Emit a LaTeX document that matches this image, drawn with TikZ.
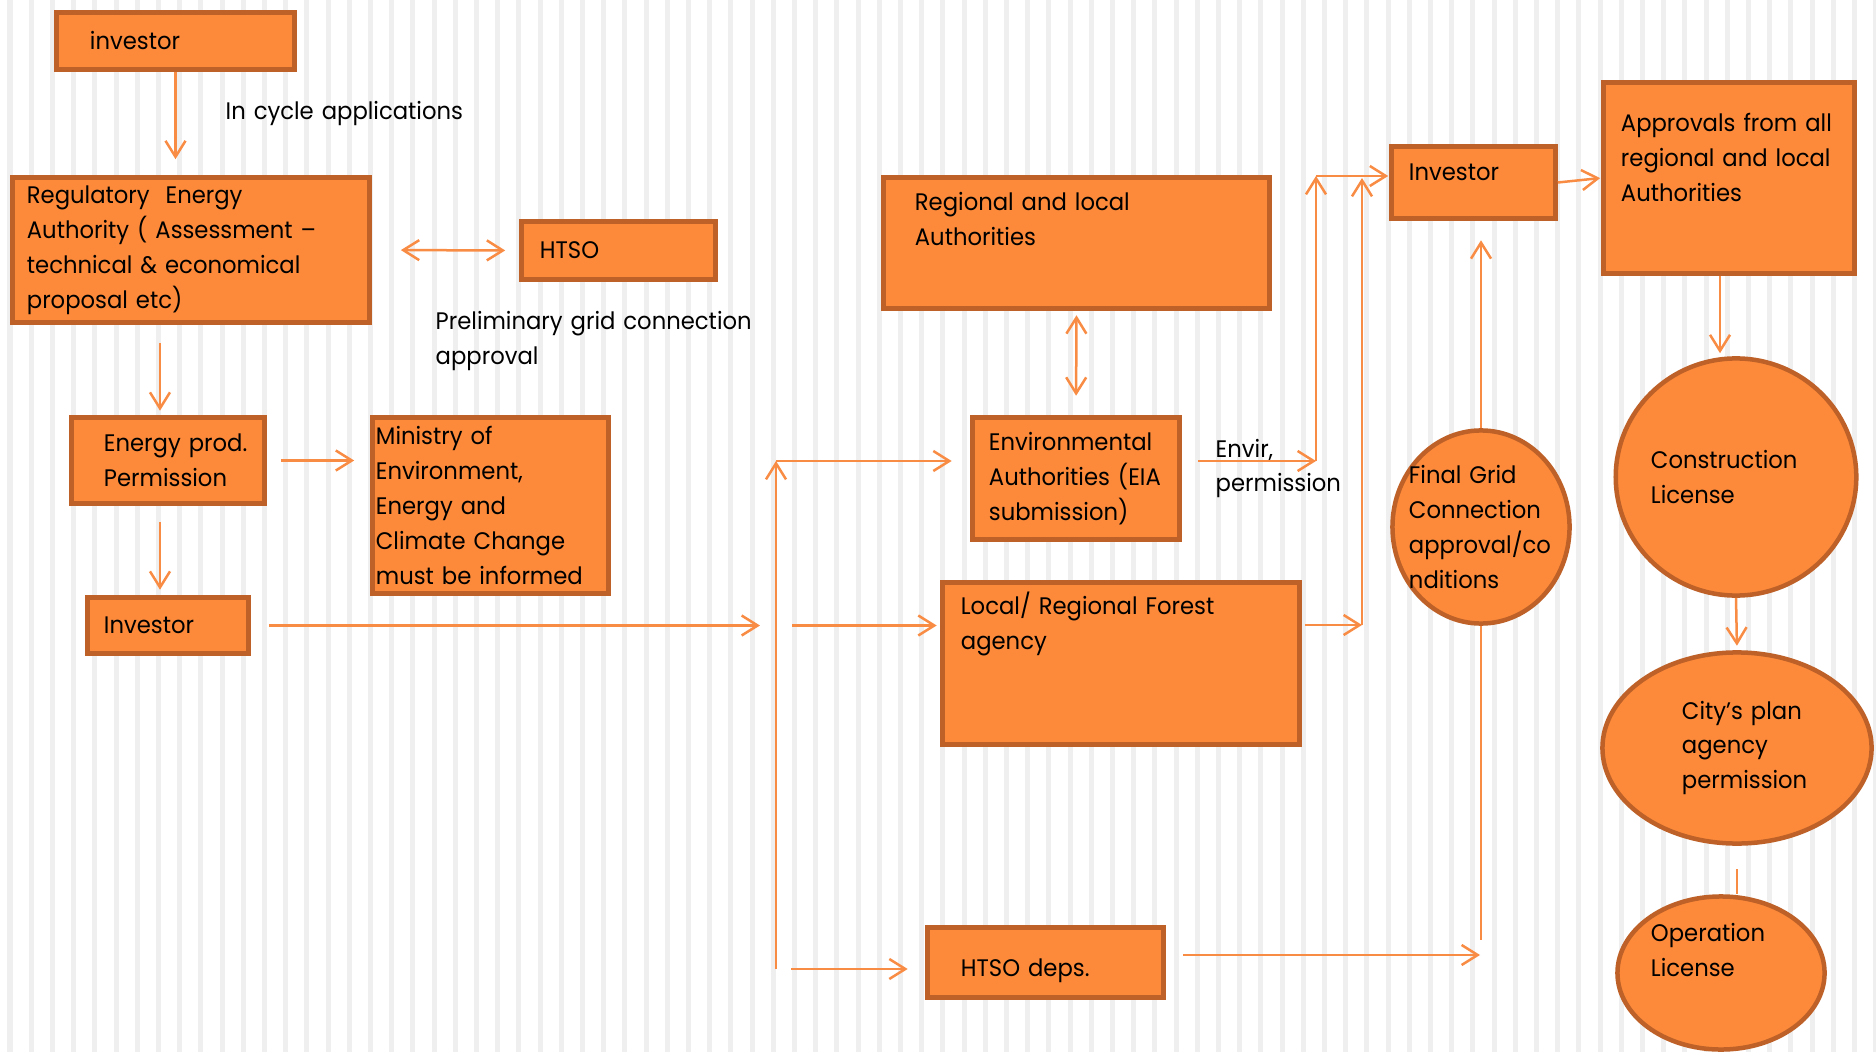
\documentclass[tikz,border=0pt]{standalone}
\usepackage{fontspec}
\setmainfont{Poppins}[FakeStretch=0.95]
\usetikzlibrary{arrows.meta,shapes.geometric}
\definecolor{boxfill}{RGB}{252,138,58}
\definecolor{boxedge}{RGB}{190,97,40}
\definecolor{flow}{RGB}{249,140,68}
\definecolor{stripegray}{RGB}{239,239,239}
\newcommand{\diagfont}{\fontsize{6.8pt}{9.95pt}\selectfont\hyphenpenalty=10000}
\tikzset{
  box/.style={draw=boxedge, fill=boxfill, line width=0.045cm, inner sep=0pt, align=left, font=\diagfont},
  blob/.style={box, ellipse},
  flowline/.style={draw=flow, line width=0.025cm},
  arr/.style={flowline, -{Straight Barb[length=0.16cm,width=0.2cm]}},
  arrboth/.style={flowline, {Straight Barb[length=0.16cm,width=0.2cm]}-{Straight Barb[length=0.16cm,width=0.2cm]}},
  note/.style={font=\diagfont, align=left, inner sep=0pt, anchor=base west},
  stripe/.style={draw=stripegray, line width=0.05cm},
}
\begin{document}
\begin{tikzpicture}[x=0.01cm, y=-0.01cm]
  \fill[white] (0,0) rectangle (1876,1052);
  \useasboundingbox (0,0) rectangle (1876,1052);
  \foreach \k in {0,...,88}
    \draw[stripe] (10+21.2*\k,0) -- (10+21.2*\k,1052);

  % left column
  \node[box, minimum width=2.38cm, minimum height=0.57cm, text width=1.71cm] (inv1) at (175.5,41) {investor};
  \node[box, minimum width=3.57cm, minimum height=1.45cm, text width=3.28cm] (reg) at (191,250)
    {Regulatory~\ Energy\\Authority~( Assessment~–\\technical~\&~economical\\proposal~etc)};
  \node[box, minimum width=1.94cm, minimum height=0.58cm, text width=1.57cm] (htso) at (618.5,250.5) {HTSO};
  \node[box, minimum width=1.93cm, minimum height=0.86cm, text width=1.28cm] (eprod) at (168,460.5) {Energy~prod.\\Permission};
  \node[box, minimum width=2.36cm, minimum height=1.76cm, text width=2.29cm] (min) at (490.5,505.5)
    {Ministry~of\\Environment,\\Energy~and\\Climate~Change\\must~be~informed};
  \node[box, minimum width=1.61cm, minimum height=0.56cm, text width=1.28cm] (inv2) at (168,625.5) {Investor};

  \node[note, text width=4cm] (cycle) at (225,120) {In cycle applications};
  \node[note, text width=4cm] (prelim) at (435,330) {Preliminary grid connection\\approval};

  % middle column
  \node[box, minimum width=3.86cm, minimum height=1.31cm, text width=3.23cm, text height=0.2cm, text depth=0.84cm] (regloc) at (1076.5,243)
    {Regional~and~local\\Authorities};
  \node[box, minimum width=2.07cm, minimum height=1.22cm, text width=1.74cm] (env) at (1076,478.5)
    {Environmental\\Authorities~(EIA\\submission)};
  \node[box, minimum width=3.57cm, minimum height=1.62cm, text width=3.2cm, text height=0.2cm, text depth=1.17cm] (forest) at (1121,663.5)
    {Local/~Regional~Forest\\agency};
  \node[box, minimum width=2.36cm, minimum height=0.7cm, text width=1.69cm, text height=0.27cm, text depth=0cm] (hdeps) at (1045.5,962.5) {HTSO~deps.};
  \node[note, text width=1.5cm] (envir) at (1215,457) {Envir,\\permission};

  % right columns
  \node[box, minimum width=1.64cm, minimum height=0.72cm, text width=1.29cm, text height=0.2cm, text depth=0.23cm] (invtr) at (1473.5,182.5) {Investor};
  \node[blob, minimum width=1.77cm, minimum height=1.93cm, text width=1.44cm, inner xsep=-0.1cm] (fgrid) at (1481,527)
    {Final~Grid\\Connection\\approval/co\\nditions};
  \node[box, minimum width=2.51cm, minimum height=1.91cm, text width=2.16cm, text height=0.2cm, text depth=1.12cm] (appr) at (1729,178)
    {Approvals~from~all\\regional~and~local\\Authorities};
  \node[blob, minimum width=2.39cm, minimum height=2.37cm, text width=1.7cm] (constr) at (1736,477) {Construction\\License};
  \node[blob, minimum width=2.69cm, minimum height=1.91cm, text width=1.1cm] (city) at (1737,748) {City’s~plan\\agency\\permission};
  \node[blob, minimum width=2.07cm, minimum height=1.53cm, text width=1.4cm, text height=0.2cm, text depth=0.82cm] (oper) at (1721,973) {Operation\\License};

  % connectors on the left
  \draw[arr, shorten >=0.16cm] (inv1.south) -- (inv1.south |- reg.north);
  \draw[arrboth, shorten <=0.29cm, shorten >=0.14cm] (reg.east) -- (htso.west);
  \draw[arr, shorten <=0.185cm, shorten >=0.045cm] ([xshift=-0.31cm]reg.south) -- ([xshift=-0.31cm]reg.south |- eprod.north);
  \draw[arr, shorten <=0.14cm, shorten >=0.16cm] (eprod.east) -- (eprod.east -| min.west);
  \draw[arr, shorten <=0.165cm, shorten >=0.055cm] ([xshift=-0.08cm]eprod.south) -- ([xshift=-0.08cm]eprod.south |- inv2.north);

  % the bus
  \coordinate (bustop) at (776,461);
  \coordinate (busbot) at (776,969);
  \draw[arr] (busbot) -- (bustop);
  \draw[arr, shorten >=0.185cm] (bustop) -- (bustop -| env.west);
  \draw[arr, shorten <=0.185cm, shorten >=0.16cm] (inv2.east) -- (inv2.east -| bustop);
  \draw[arr, shorten <=0.16cm, shorten >=0.035cm] (inv2.east -| bustop) -- (inv2.east -| forest.west);
  \draw[arr, shorten <=0.15cm, shorten >=0.175cm] (busbot) -- (busbot -| hdeps.west);

  % middle connectors
  \draw[arrboth, shorten <=0.045cm, shorten >=0.195cm] (regloc.south) -- (env.north);
  \coordinate (envturn) at (1316,461);
  \coordinate (envtop) at (1316,176);
  \draw[arr, shorten <=0.165cm] (envturn -| env.east) -- (envturn);
  \draw[arr] (envturn) -- (envtop);
  \draw[arr, shorten >=0.01cm] (envtop) -- (envtop -| invtr.west);
  \coordinate (forturn) at (1362,625);
  \coordinate (fortop) at (1362,178);
  \draw[arr, shorten <=0.03cm] (forturn -| forest.east) -- (forturn);
  \draw[arr] (forturn) -- (fortop);

  % right connectors
  \draw[arr, shorten >=0.01cm] (invtr.east) -- (appr.west);
  \draw[arr, shorten >=0.195cm] (fgrid.north) -- (fgrid.north |- invtr.south);
  \coordinate (fgbot) at (1481,940);
  \draw[flowline] (fgrid.south) -- (fgbot);
  \coordinate (hdend) at (1480,955);
  \draw[arr, shorten <=0.175cm] (hdend -| hdeps.east) -- (hdend);
  \draw[arr, shorten >=0.03cm] ([xshift=-0.09cm]appr.south) -- ([xshift=-0.09cm]appr.south |- constr.north);
  \draw[arr, shorten >=0.045cm] (constr.south) -- (city.north);
  \draw[flowline, shorten <=0.235cm] (city.south) -- (city.south |- oper.north);
\end{tikzpicture}
\end{document}
